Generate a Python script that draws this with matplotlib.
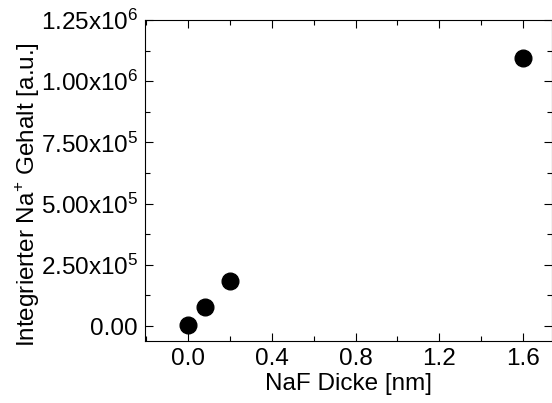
import numpy as np
import matplotlib.pyplot as plt
from matplotlib.ticker import FuncFormatter, MultipleLocator

plt.rcParams['font.family'] = ['Liberation Sans', 'DejaVu Sans']
plt.rcParams['mathtext.fontset'] = 'custom'
plt.rcParams['mathtext.rm'] = 'Liberation Sans'

# Messwerte
dicke = [0.0, 0.08, 0.2, 1.6]           # NaF Dicke [nm]
gehalt = [4000, 79000, 184000, 1.095e6]  # integrierter Na+ Gehalt [a.u.]

fig = plt.figure(figsize=(5.52, 4.03), dpi=100)
ax = fig.add_axes([0.2627, 0.1538, 0.7382, 0.7966])

ax.plot(dicke, gehalt, 'o', color='black', markersize=12)

ax.set_xlim(-0.205, 1.74)
ax.set_ylim(-6.1e4, 1.25e6)

ax.xaxis.set_major_locator(MultipleLocator(0.4))
ax.xaxis.set_minor_locator(MultipleLocator(0.2))
ax.yaxis.set_major_locator(MultipleLocator(2.5e5))
ax.yaxis.set_minor_locator(MultipleLocator(1.25e5))

def yfmt(v, pos):
    if v == 0:
        return '0.00'
    e = int(np.floor(np.log10(abs(v))))
    m = v / 10**e
    return r'$\mathregular{%.2fx10^{%d}}$' % (m, e)

ax.yaxis.set_major_formatter(FuncFormatter(yfmt))
ax.xaxis.set_major_formatter(FuncFormatter(lambda v, p: '%.1f' % v))

ax.tick_params(which='both', direction='in', top=True, right=True, labelsize=17.5, width=0.8)
ax.tick_params(which='major', length=6, pad=5)
ax.tick_params(which='minor', length=3.5)

ax.set_xlabel('NaF Dicke [nm]', fontsize=17.5, labelpad=2)
ax.set_ylabel(r'Integrierter Na$^{+}$ Gehalt [a.u.]', fontsize=17.5, labelpad=-1)
ax.yaxis.label.set_y(0.455)

fig.savefig('out.png', dpi=100)
